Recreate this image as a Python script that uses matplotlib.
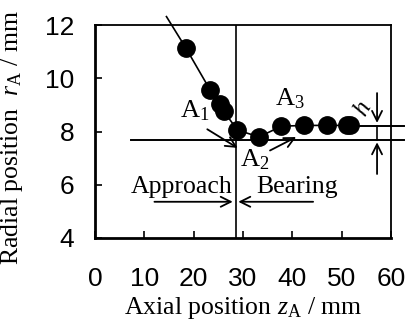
import matplotlib
matplotlib.use("Agg")
import matplotlib.pyplot as plt

plt.rcParams['mathtext.fontset'] = 'custom'
plt.rcParams['mathtext.rm'] = 'Liberation Serif'
plt.rcParams['mathtext.it'] = 'Liberation Serif:italic'

# data
z_pts = [18.4, 23.3, 25.3, 26.1, 28.9, 33.3, 37.8, 42.4, 47.0, 51.2, 51.8]
r_pts = [11.15, 9.58, 9.02, 8.77, 8.05, 7.80, 8.20, 8.23, 8.23, 8.23, 8.23]
line_start = (14.5, 12.32)
r_top = 8.22
r_bottom = 7.70
z_boundary = 28.5
z_h = 57.2
xticks = [0, 10, 20, 30, 40, 50, 60]
yticks = [4, 6, 8, 10, 12]

serif = 'Liberation Serif'
sans = 'Liberation Sans'

fig = plt.figure(figsize=(4.11, 3.22), dpi=100)
ax = fig.add_axes([0.231, 0.261, 0.72, 0.661])
ax.set_xlim(0, 60)
ax.set_ylim(4, 12)

lz = [line_start[0]] + z_pts
lr = [line_start[1]] + r_pts
ax.plot(lz, lr, color='black', lw=1.2, clip_on=False, zorder=3)
ax.plot(z_pts, r_pts, 'o', color='black', ms=12.5, clip_on=False, zorder=4)

# horizontal reference lines
ax.plot([z_pts[-1], 62.6], [r_top, r_top], color='black', lw=1.4, clip_on=False)
ax.plot([7.4, 62.6], [r_bottom, r_bottom], color='black', lw=1.4, clip_on=False)
# vertical boundary
ax.plot([z_boundary, z_boundary], [4, 12], color='black', lw=1.2)
# h marker
ax.plot([z_h, z_h], [r_bottom, r_top], color='black', lw=1.2)
arr = dict(arrowstyle='->', color='black', lw=1.3, mutation_scale=18)
ax.annotate('', xy=(z_h, r_top), xytext=(z_h, 9.55), arrowprops=arr, annotation_clip=False)
ax.annotate('', xy=(z_h, r_bottom), xytext=(z_h, 6.3), arrowprops=arr, annotation_clip=False)
ax.text(54.3, 8.85, r'$h$', fontsize=18, rotation=60, ha='center', va='center')

# A labels
ax.annotate('', xy=(29.4, 7.33), xytext=(22.3, 8.14), arrowprops=arr)
ax.annotate('', xy=(41.3, 7.84), xytext=(35.0, 7.24), arrowprops=arr)
ax.text(20.3, 8.78, r'A$_{\rm 1}$', fontsize=19, family=serif, ha='center', va='center')
ax.text(32.3, 6.95, r'A$_{\rm 2}$', fontsize=19, family=serif, ha='center', va='center')
ax.text(39.6, 9.22, r'A$_{\rm 3}$', fontsize=19, family=serif, ha='center', va='center')

# Approach / Bearing
ax.text(17.6, 5.9, 'Approach', fontsize=18.5, family=serif, ha='center', va='center')
ax.text(41.0, 5.9, 'Bearing', fontsize=18.5, family=serif, ha='center', va='center')
ax.annotate('', xy=(z_boundary, 5.36), xytext=(11.5, 5.36), arrowprops=arr)
ax.annotate('', xy=(z_boundary, 5.36), xytext=(44.8, 5.36), arrowprops=arr)

ax.set_xticks(xticks)
ax.set_yticks(yticks)
ax.tick_params(direction='in', length=5, width=1.2, labelsize=19, pad=0)
ax.tick_params(axis='x', pad=21)
ax.tick_params(axis='y', pad=15)
for lab in ax.get_xticklabels() + ax.get_yticklabels():
    lab.set_family(sans)
ax.xaxis.set_ticks_position('bottom')
ax.yaxis.set_ticks_position('left')
for s in ax.spines.values():
    s.set_linewidth(1.3)
ax.spines['left'].set_linewidth(2)
ax.spines['bottom'].set_linewidth(2)

ax.set_xlabel(r'Axial position $z_{\rm A}$ / mm', fontsize=18.5, family=serif, labelpad=3)
ax.set_ylabel(r'Radial position  $r_{\rm A}$ / mm', fontsize=18.5, family=serif)
ax.yaxis.set_label_coords(-0.235, 0.47)

fig.savefig('out.png', dpi=100)
